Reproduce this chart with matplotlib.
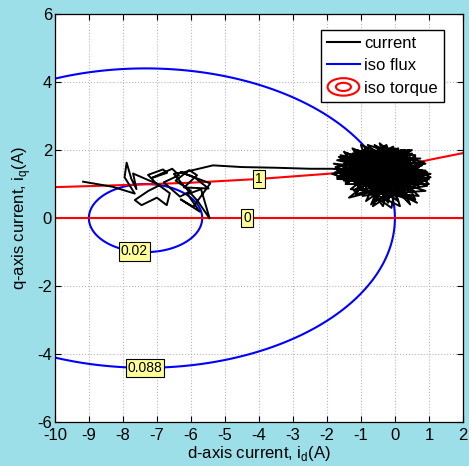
import numpy as np
import matplotlib.pyplot as plt
from matplotlib.lines import Line2D
from matplotlib.patches import Ellipse
from matplotlib.legend_handler import HandlerBase

plt.rcParams['font.family'] = ['Liberation Sans', 'DejaVu Sans']
plt.rcParams['axes.unicode_minus'] = False

# machine parameters for the flux map
psi_m = 0.088
Ld = 0.012
Lq = 0.020
flux_levels = [0.02, 0.088]

# iso torque lines (T = 0 and T = 1)
torque0_id = [-10, 2]
torque0_iq = [0, 0]
torque1_id = [-10, -8, -6, -4, -2, -0.4, 0.2, 1.0, 2.0]
torque1_iq = [0.91, 0.97, 1.04, 1.15, 1.30, 1.44, 1.53, 1.71, 1.91]

# measured current: start-up region
start_id = [-9.17, -8.3, -7.65, -7.95, -7.89, -7.75, -7.6, -7.7, -6.91, -7.25, -7.65,
            -7.45, -7.0, -6.71, -6.62, -7.05, -7.26, -6.82, -6.7, -7.15, -6.55, -6.35,
            -6.8, -6.32, -6.0, -6.45, -6.05, -5.82, -6.2, -5.48, -5.9, -6.3, -5.43,
            -5.93, -6.3, -5.74, -6.1, -5.7, -5.45, -5.8, -6.25, -6.5, -6.15]
start_iq = [1.07, 0.92, 0.72, 1.2, 1.63, 1.15, 0.85, 1.31, 0.97, 0.8, 0.53,
            0.38, 0.6, 0.38, 0.73, 1.05, 1.27, 1.43, 1.33, 1.18, 1.45, 1.26,
            1.05, 0.63, 0.8, 1.1, 1.41, 1.26, 0.9, 0.87, 1.2, 1.35, 1.02,
            0.33, 0.55, 0.19, 0.7, 0.85, -0.01, 0.5, 1.0, 1.3, 1.36]
# transfer towards the operating point
move_id = [-5.35, -4.5, -3.5, -2.5, -1.85]
move_iq = [1.55, 1.5, 1.48, 1.45, 1.45]
# steady state around the operating point
ss_id = [-0.2, -1.2, 0.3, -0.6, 0.9, -1.5, 0.5, -0.7, 0.0, -1.7, 1.0, -0.3, -0.9,
         0.7, -1.3, 0.2, -0.1, -1.6, 0.8, -0.5, -1.0, 0.45, -0.3, -1.15, 1.05, -1.8,
         0.1, -0.8, 0.6, -0.6, 0.3, -1.4, 0.95, -0.95, -0.4, 0.4, -1.55, 0.0, -0.2,
         -1.25, 0.75, -0.65, 0.15, -1.75, 0.55, -0.75, 0.85, -1.1, 0.15, -0.45, 1.0,
         -1.45, -0.1, 0.6, -1.65, 0.35, -0.85, -0.05, -1.3, 0.9, -0.5, -1.0, 0.5,
         -1.85, 0.25, -0.6, 1.05, -1.2, 0.05, -0.35, -1.5, 0.7, -0.9, 0.4, -1.35,
         0.2, -0.25, -1.7, 0.8, -0.55, -1.05, 0.65, -1.6, 0.1, -0.7, 0.95, -1.25,
         -0.15, 0.45, -0.95, 0.6, -0.4, -1.4, 0.3, -0.3,
         -1.6, 0.6, -1.0, 0.8, -1.4, 0.2, -0.8, 0.7, -1.7, 0.4, -0.3, -1.2, 0.9,
         -0.6, 0.1, -1.5, 0.5, -0.9, 0.3, -1.3, 0.0, -0.7, 0.8, -1.1, 0.6, -1.6,
         -0.2, 0.4, -1.0, 0.9, -0.4, -1.5, 0.2, -0.8, 0.5, -1.25, 0.7, -0.5, -1.7,
         0.3, -0.1, -1.4, 0.85, -0.6, 0.15, -1.05, 0.55, -0.35, -1.55, 0.45, -0.9,
         0.05, -0.7, 0.75, -1.2, -0.25, 0.35, -1.45, -0.05, -0.85, 0.65, -0.45,
         -1.35, 0.25, -0.65, 0.95, -1.15, 0.1, -0.55, -1.75]
ss_iq = [1.3, 2.0, 0.9, 2.15, 1.3, 1.1, 1.9, 0.4, 2.05, 1.7, 1.15, 0.55, 2.1,
         0.65, 0.85, 2.0, 0.3, 1.35, 1.55, 1.0, 1.9, 0.4, 2.1, 0.7, 1.3, 1.6,
         1.1, 2.15, 1.7, 0.6, 2.0, 1.8, 0.95, 0.65, 1.95, 0.6, 1.25, 1.6, 0.45,
         2.05, 1.25, 0.35, 1.85, 1.5, 0.8, 1.95, 1.65, 0.95, 0.35, 2.2, 1.0,
         1.0, 1.95, 0.55, 1.8, 1.35, 0.5, 2.1, 1.5, 0.8, 0.7, 2.15, 1.55,
         1.3, 0.6, 1.9, 1.2, 0.8, 1.9, 0.35, 1.95, 1.0, 1.2, 2.0, 0.6,
         1.0, 2.15, 1.2, 1.4, 0.5, 1.8, 0.45, 1.55, 0.5, 2.05, 1.1, 1.15,
         1.55, 0.75, 2.0, 1.85, 0.8, 1.65, 1.2, 1.4,
         1.2, 1.8, 1.0, 1.2, 1.9, 0.9, 1.7, 1.5, 1.4, 1.1, 2.0, 1.3, 1.4,
         0.9, 2.05, 1.6, 1.2, 1.5, 1.7, 1.1, 1.3, 2.0, 1.05, 1.65, 1.35, 1.85,
         1.1, 1.9, 1.25, 1.6, 1.7, 1.45, 1.45, 1.1, 2.0, 1.9, 0.95, 1.5, 1.15,
         1.05, 1.8, 1.3, 1.25, 1.25, 1.65, 1.45, 1.1, 1.9, 1.7, 1.45, 0.95,
         1.15, 1.8, 1.75, 1.55, 1.2, 1.6, 1.05, 1.45, 1.35, 1.2, 1.6,
         1.75, 1.3, 1.05, 1.35, 2.0, 1.75, 1.15, 1.35]

cur_id = start_id + move_id + ss_id
cur_iq = start_iq + move_iq + ss_iq


class HandlerRings(HandlerBase):
    # two nested red rings, like a contour legend entry
    def create_artists(self, legend, orig_handle, xdescent, ydescent,
                       width, height, fontsize, trans):
        cx = 0.5 * width - xdescent
        cy = 0.5 * height - ydescent
        outer = Ellipse((cx, cy), width * 0.95, height * 1.5, fill=False,
                        ec='red', lw=1.5, transform=trans)
        inner = Ellipse((cx, cy), width * 0.45, height * 0.7, fill=False,
                        ec='red', lw=1.5, transform=trans)
        return [outer, inner]


fig = plt.figure(figsize=(4.69, 4.66), dpi=100, facecolor='#9ddfe9')
ax = fig.add_axes([0.117, 0.094, 0.870, 0.876])

ax.plot(cur_id, cur_iq, color='black', lw=1.4, zorder=3)

ID, IQ = np.meshgrid(np.linspace(-10, 2, 600), np.linspace(-6, 6, 600))
psi = np.sqrt((psi_m + Ld * ID) ** 2 + (Lq * IQ) ** 2)
cs = ax.contour(ID, IQ, psi, levels=flux_levels, colors='blue', linewidths=1.5, zorder=2)
lbls = ax.clabel(cs, fmt={0.02: '0.02', 0.088: '0.088'}, inline=False,
                 fontsize=10, colors='black', manual=[(-7.66, -0.95), (-7.35, -4.37)])
box = dict(boxstyle='square,pad=0.15', facecolor='#ffff99', edgecolor='black', lw=0.8)
for t in lbls:
    t.set_rotation(0)
    t.set_bbox(box)
    t.set_zorder(5)

ax.plot(torque0_id, torque0_iq, color='red', lw=1.5, zorder=2)
ax.plot(torque1_id, torque1_iq, color='red', lw=1.5, zorder=2)
ax.text(-4.35, 0, '0', fontsize=10, ha='center', va='center', bbox=box, zorder=5)
ax.text(-4.0, 1.15, '1', fontsize=10, ha='center', va='center', bbox=box, zorder=5)

ax.set_xlim(-10, 2)
ax.set_ylim(-6, 6)
ax.set_xticks(range(-10, 3))
ax.set_yticks(range(-6, 7, 2))
ax.tick_params(direction='in', top=True, right=True, labelsize=12, length=4, pad=2)
ax.tick_params(axis='x', pad=4)
ax.grid(True, linestyle=':', color='#b8b8b8', lw=0.8)
for s in ax.spines.values():
    s.set_linewidth(0.9)

ax.set_xlabel(r'd-axis current, i$_\mathregular{d}$(A)', fontsize=12, labelpad=1)
ax.set_ylabel(r'q-axis current, i$_\mathregular{q}$(A)', fontsize=12, labelpad=3)

torque_proxy = Line2D([], [], color='red')
ax.legend([Line2D([], [], color='black', lw=1.5), Line2D([], [], color='blue', lw=1.5), torque_proxy],
          ['current', 'iso flux', 'iso torque'], loc='upper right',
          bbox_to_anchor=(0.953, 0.961), borderaxespad=0, fontsize=12,
          handlelength=2.0, handletextpad=0.25, labelspacing=0.45, borderpad=0.35,
          fancybox=False, framealpha=1, edgecolor='black',
          handler_map={torque_proxy: HandlerRings()})

fig.savefig('out.png', dpi=100, facecolor=fig.get_facecolor())
